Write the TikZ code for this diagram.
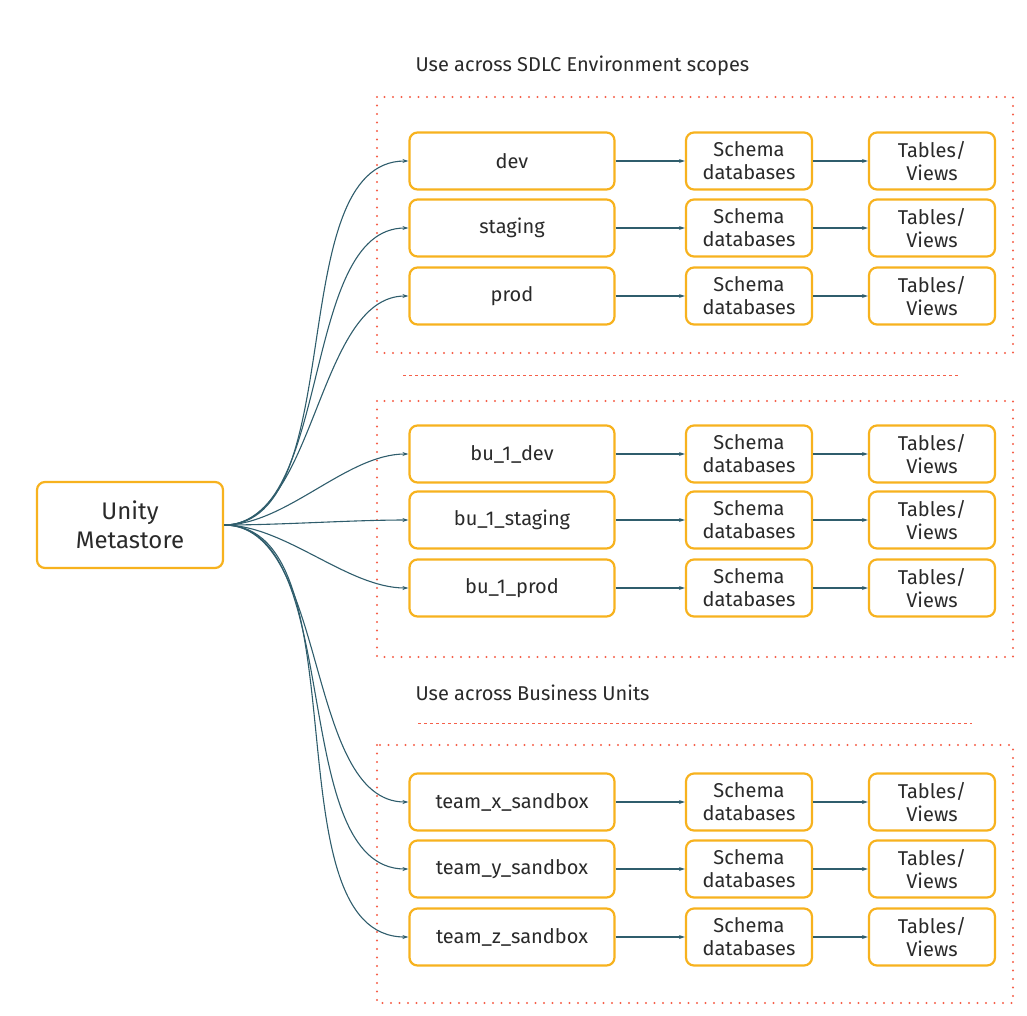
\documentclass[tikz,border=0pt]{standalone}
\usepackage{fontspec}
\setmainfont{Fira Sans}
\usetikzlibrary{positioning}
\usetikzlibrary{arrows.meta}
\definecolor{boxorange}{HTML}{F7B21E}
\definecolor{linkteal}{HTML}{2F5D6C}
\definecolor{dotred}{HTML}{F5604A}
\definecolor{txtgray}{HTML}{2A2A2A}

\begin{document}
\begin{tikzpicture}[
            x = 1pt, y = -1pt,
            > = {Stealth[length=6pt,width=4pt]}, % arrow head style
            font = \fontsize{20}{23}\selectfont,
            text = txtgray
        ]

        \tikzset{
            item/.style = {
                draw = boxorange,
                line width = 2.2pt,
                fill = white,
                rounded corners = 8pt,
                align = center,
                inner sep = 0pt
            },
            env/.style = {item, minimum width = 205pt, minimum height = 57pt},
            sub/.style = {item, minimum width = 126pt, minimum height = 57pt},
            link/.style = {->, draw = linkteal, line width = 1.1pt},
            area/.style = {draw = dotred, line width = 2.4pt, dash pattern = on 0pt off 8.5pt, line cap = round},
            rule/.style = {draw = dotred, line width = 1pt, dash pattern = on 3pt off 3pt}
        }

        \useasboundingbox (0,0) rectangle (1027,1015);

	% scopes
        \draw[area] (377,97) rectangle (1013,353);
        \draw[area] (377,401) rectangle (1013,657);
        \draw[area] (377,745) rectangle (1013,1003);
        \draw[rule] (403,375) -- (960,375);
        \draw[rule] (418,723) -- (972,723);

        \node[anchor = west] (title1) at (412,66) {Use across SDLC Environment scopes};
        \node[anchor = west] (title2) at (412,693) {Use across Business Units};

        % metastore
        \node[item, minimum width = 186pt, minimum height = 86pt, font = \fontsize{24}{29}\selectfont] (UM) at (130,525) {Unity\\Metastore};

        % catalogs
        \foreach \name/\y [count=\i] in {dev/161, staging/228, prod/296,
                bu\_1\_dev/454, bu\_1\_staging/520, bu\_1\_prod/588,
                team\_x\_sandbox/802, team\_y\_sandbox/869, team\_z\_sandbox/937} {
            \node[env] (C\i) at (512,\y) {\name};
            \node[sub] (S\i) at (749,\y) {Schema\\databases};
            \node[sub] (T\i) at (932,\y) {Tables/\\Views};
            \draw[link] (UM.east) to[out=0, in=180, looseness=0.8] (C\i.west);
            \draw[link] (C\i) -- (S\i);
            \draw[link] (S\i) -- (T\i);
        }

  \end{tikzpicture}
\end{document}
